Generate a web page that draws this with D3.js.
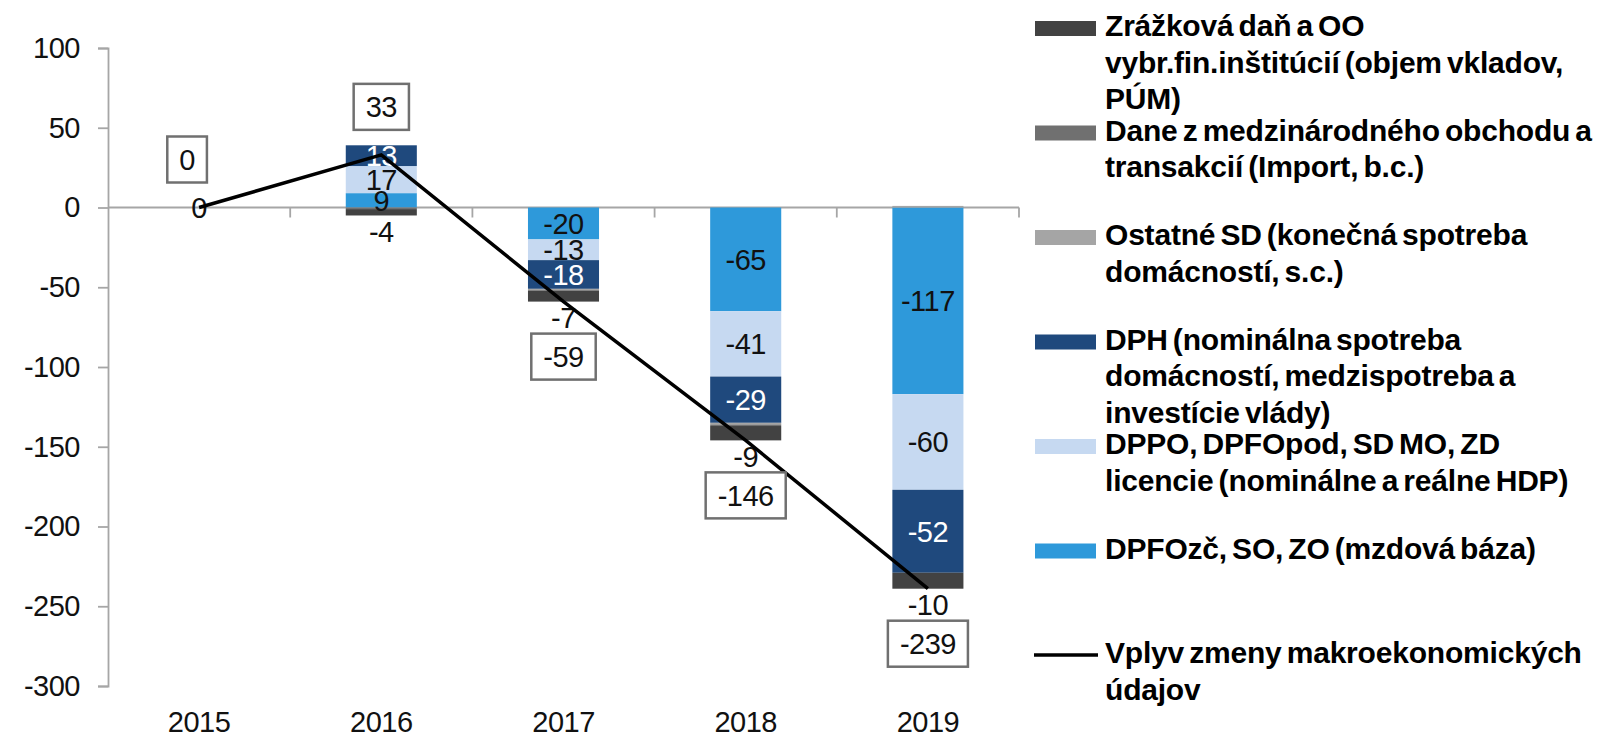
<!DOCTYPE html>
<html>
<head>
<meta charset="utf-8">
<script src="https://cdn.jsdelivr.net/npm/d3@7"></script>
<style>
  body { margin: 0; background: #fff; }
  text { font-family: "Liberation Sans", Arial, sans-serif; }
</style>
</head>
<body>
<script>

// data
var years = ['2015', '2016', '2017', '2018', '2019'];
var dpfozc = [0, 9, -20, -65, -117];
var dppo = [0, 17, -13, -41, -60];
var dph = [0, 13, -18, -29, -52];
var ostatneSD = [0, 0, -1, -1, 1];
var daneMedz = [0, -1, 0, -1, 0];
var zrazkova = [0, -4, -7, -9, -10];
var vplyv = [0, 33, -59, -146, -239];
var yTicks = [100, 50, 0, -50, -100, -150, -200, -250, -300];

var seriesKeys = ['dpfozc', 'dppo', 'dph', 'ostatneSD', 'daneMedz', 'zrazkova'];
var seriesColors = {
  dpfozc: '#2e99da', dppo: '#c6d9f1', dph: '#1f497d',
  ostatneSD: '#a5a5a5', daneMedz: '#707070', zrazkova: '#424242'
};
// legend goes top to bottom
var legendItems = [
  {key: 'zrazkova', lines: ['Zrážková daň a OO', 'vybr.fin.inštitúcií (objem vkladov,', 'PÚM)']},
  {key: 'daneMedz', lines: ['Dane z medzinárodného obchodu a', 'transakcií (Import, b.c.)']},
  {key: 'ostatneSD', lines: ['Ostatné SD (konečná spotreba', 'domácností, s.c.)']},
  {key: 'dph', lines: ['DPH (nominálna spotreba', 'domácností, medzispotreba a', 'investície vlády)']},
  {key: 'dppo', lines: ['DPPO, DPFOpod, SD MO, ZD', 'licencie (nominálne a reálne HDP)']},
  {key: 'dpfozc', lines: ['DPFOzč, SO, ZO (mzdová báza)']},
  {key: 'line', lines: ['Vplyv zmeny makroekonomických', 'údajov']}
];

var rows = years.map(function(yr, i) {
  return {year: yr, dpfozc: dpfozc[i], dppo: dppo[i], dph: dph[i],
          ostatneSD: ostatneSD[i], daneMedz: daneMedz[i], zrazkova: zrazkova[i]};
});

var width = 1617, height = 738;

var svg = d3.select('body').append('svg')
            .attr('width', width)
            .attr('height', height);

var x = d3.scaleBand()
          .domain(years)
          .range([108, 1019])
          .paddingInner(0.61)
          .paddingOuter(0.305);

var y = d3.scaleLinear()
          .domain([-300, 100])
          .range([686, 48]);

var axisColor = '#a6a6a6';

// y axis
var yAxis = svg.append('g')
  .attr('transform', 'translate(108,0)')
  .call(d3.axisLeft(y).tickValues(yTicks).tickSize(10).tickPadding(18)
          .tickFormat(function(d) { return String(d); }));
yAxis.selectAll('path, line').attr('stroke', axisColor).attr('stroke-width', 1.8);
yAxis.selectAll('text').attr('font-size', 29).attr('fill', '#111')
     .attr('font-family', '"Liberation Sans", Arial, sans-serif').attr('letter-spacing', -0.5);

// category labels at the bottom
var xAxis = svg.append('g')
  .attr('transform', 'translate(0,686)')
  .call(d3.axisBottom(x).tickSize(0).tickPadding(25));
xAxis.select('.domain').remove();
xAxis.selectAll('text').attr('font-size', 29).attr('fill', '#111')
     .attr('font-family', '"Liberation Sans", Arial, sans-serif').attr('letter-spacing', -0.5);

// zero line with ticks between categories
var zeroY = y(0);
svg.append('line')
  .attr('x1', x.range()[0]).attr('x2', x.range()[1])
  .attr('y1', zeroY).attr('y2', zeroY)
  .attr('stroke', axisColor).attr('stroke-width', 1.8);
svg.selectAll('.xtick')
  .data(years.slice(1).concat(['end']))
  .enter().append('line')
  .attr('class', 'xtick')
  .attr('x1', function(d) { return d === 'end' ? x.range()[1] : x(d) - x.step() * x.paddingInner() / 2; })
  .attr('x2', function(d) { return d === 'end' ? x.range()[1] : x(d) - x.step() * x.paddingInner() / 2; })
  .attr('y1', zeroY).attr('y2', zeroY + 10)
  .attr('stroke', axisColor).attr('stroke-width', 1.8);

// stacked bars
var stack = d3.stack().keys(seriesKeys).offset(d3.stackOffsetDiverging);
var stacked = stack(rows);

var layers = svg.selectAll('.layer')
  .data(stacked)
  .enter().append('g')
  .attr('class', 'layer')
  .attr('fill', function(d) { return seriesColors[d.key]; });

layers.selectAll('rect')
  .data(function(d) { return d; })
  .enter().append('rect')
  .attr('x', function(d) { return x(d.data.year); })
  .attr('width', x.bandwidth())
  .attr('y', function(d) { return y(Math.max(d[0], d[1])); })
  .attr('height', function(d) { return Math.abs(y(d[0]) - y(d[1])); });

// segment labels
var labelled = ['dpfozc', 'dppo', 'dph'];
stacked.forEach(function(layer) {
  if (labelled.indexOf(layer.key) < 0 && layer.key !== 'zrazkova') return;
  svg.append('g').selectAll('text')
    .data(layer.filter(function(d) {
      var v = d.data[layer.key];
      return v !== 0 || layer.key === 'dpfozc';
    }))
    .enter().append('text')
    .attr('x', function(d) { return x(d.data.year) + x.bandwidth() / 2; })
    .attr('y', function(d) {
      if (layer.key === 'zrazkova') return y(d[0]) + 16;
      return y((d[0] + d[1]) / 2);
    })
    .attr('dy', '0.36em')
    .attr('text-anchor', 'middle')
    .attr('font-size', 29)
    .attr('letter-spacing', -0.5)
    .attr('fill', layer.key === 'dph' ? '#fff' : '#111')
    .text(function(d) { return d.data[layer.key]; });
});

// line
var lineData = years.map(function(yr, i) { return {year: yr, v: vplyv[i]}; });
var line = d3.line()
  .x(function(d) { return x(d.year) + x.bandwidth() / 2; })
  .y(function(d) { return y(d.v); });

svg.append('path')
  .datum(lineData)
  .attr('d', line)
  .attr('fill', 'none')
  .attr('stroke', '#000')
  .attr('stroke-width', 3.5);

// boxed labels for the line
var boxes = svg.selectAll('.box')
  .data(lineData)
  .enter().append('g')
  .attr('class', 'box')
  .attr('transform', function(d, i) {
    var cx = x(d.year) + x.bandwidth() / 2 - (i === 0 ? 12 : 0);
    var cy = y(d.v) + (d.v >= 0 ? -48 : 55);
    return 'translate(' + cx + ',' + cy + ')';
  });

boxes.append('text')
  .attr('text-anchor', 'middle')
  .attr('dy', '0.36em')
  .attr('font-size', 29)
  .attr('letter-spacing', -0.5)
  .attr('fill', '#111')
  .text(function(d) { return d.v; });

boxes.each(function() {
  var g = d3.select(this);
  var w = g.select('text').node().getComputedTextLength() + 24;
  g.insert('rect', 'text')
    .attr('x', -w / 2).attr('y', -23)
    .attr('width', w).attr('height', 46)
    .attr('fill', '#fff')
    .attr('stroke', '#707070')
    .attr('stroke-width', 2.5);
});

// legend
var legend = svg.append('g').attr('transform', 'translate(1034,0)');
legendItems.forEach(function(item, i) {
  var base = 36 + i * 104.5;
  var g = legend.append('g');
  if (item.key === 'line') {
    g.append('line')
      .attr('x1', 0).attr('x2', 64)
      .attr('y1', base - 8).attr('y2', base - 8)
      .attr('stroke', '#000').attr('stroke-width', 3.5);
  } else {
    g.append('rect')
      .attr('x', 1).attr('y', base - 15)
      .attr('width', 61).attr('height', 15)
      .attr('fill', seriesColors[item.key]);
  }
  item.lines.forEach(function(t, j) {
    g.append('text')
      .attr('x', 71)
      .attr('y', base + j * 36.5)
      .attr('font-size', 30)
      .attr('font-weight', 'bold')
      .attr('letter-spacing', -0.2)
      .attr('word-spacing', -3)
      .attr('fill', '#000')
      .text(t);
  });
});

</script>
</body>
</html>
